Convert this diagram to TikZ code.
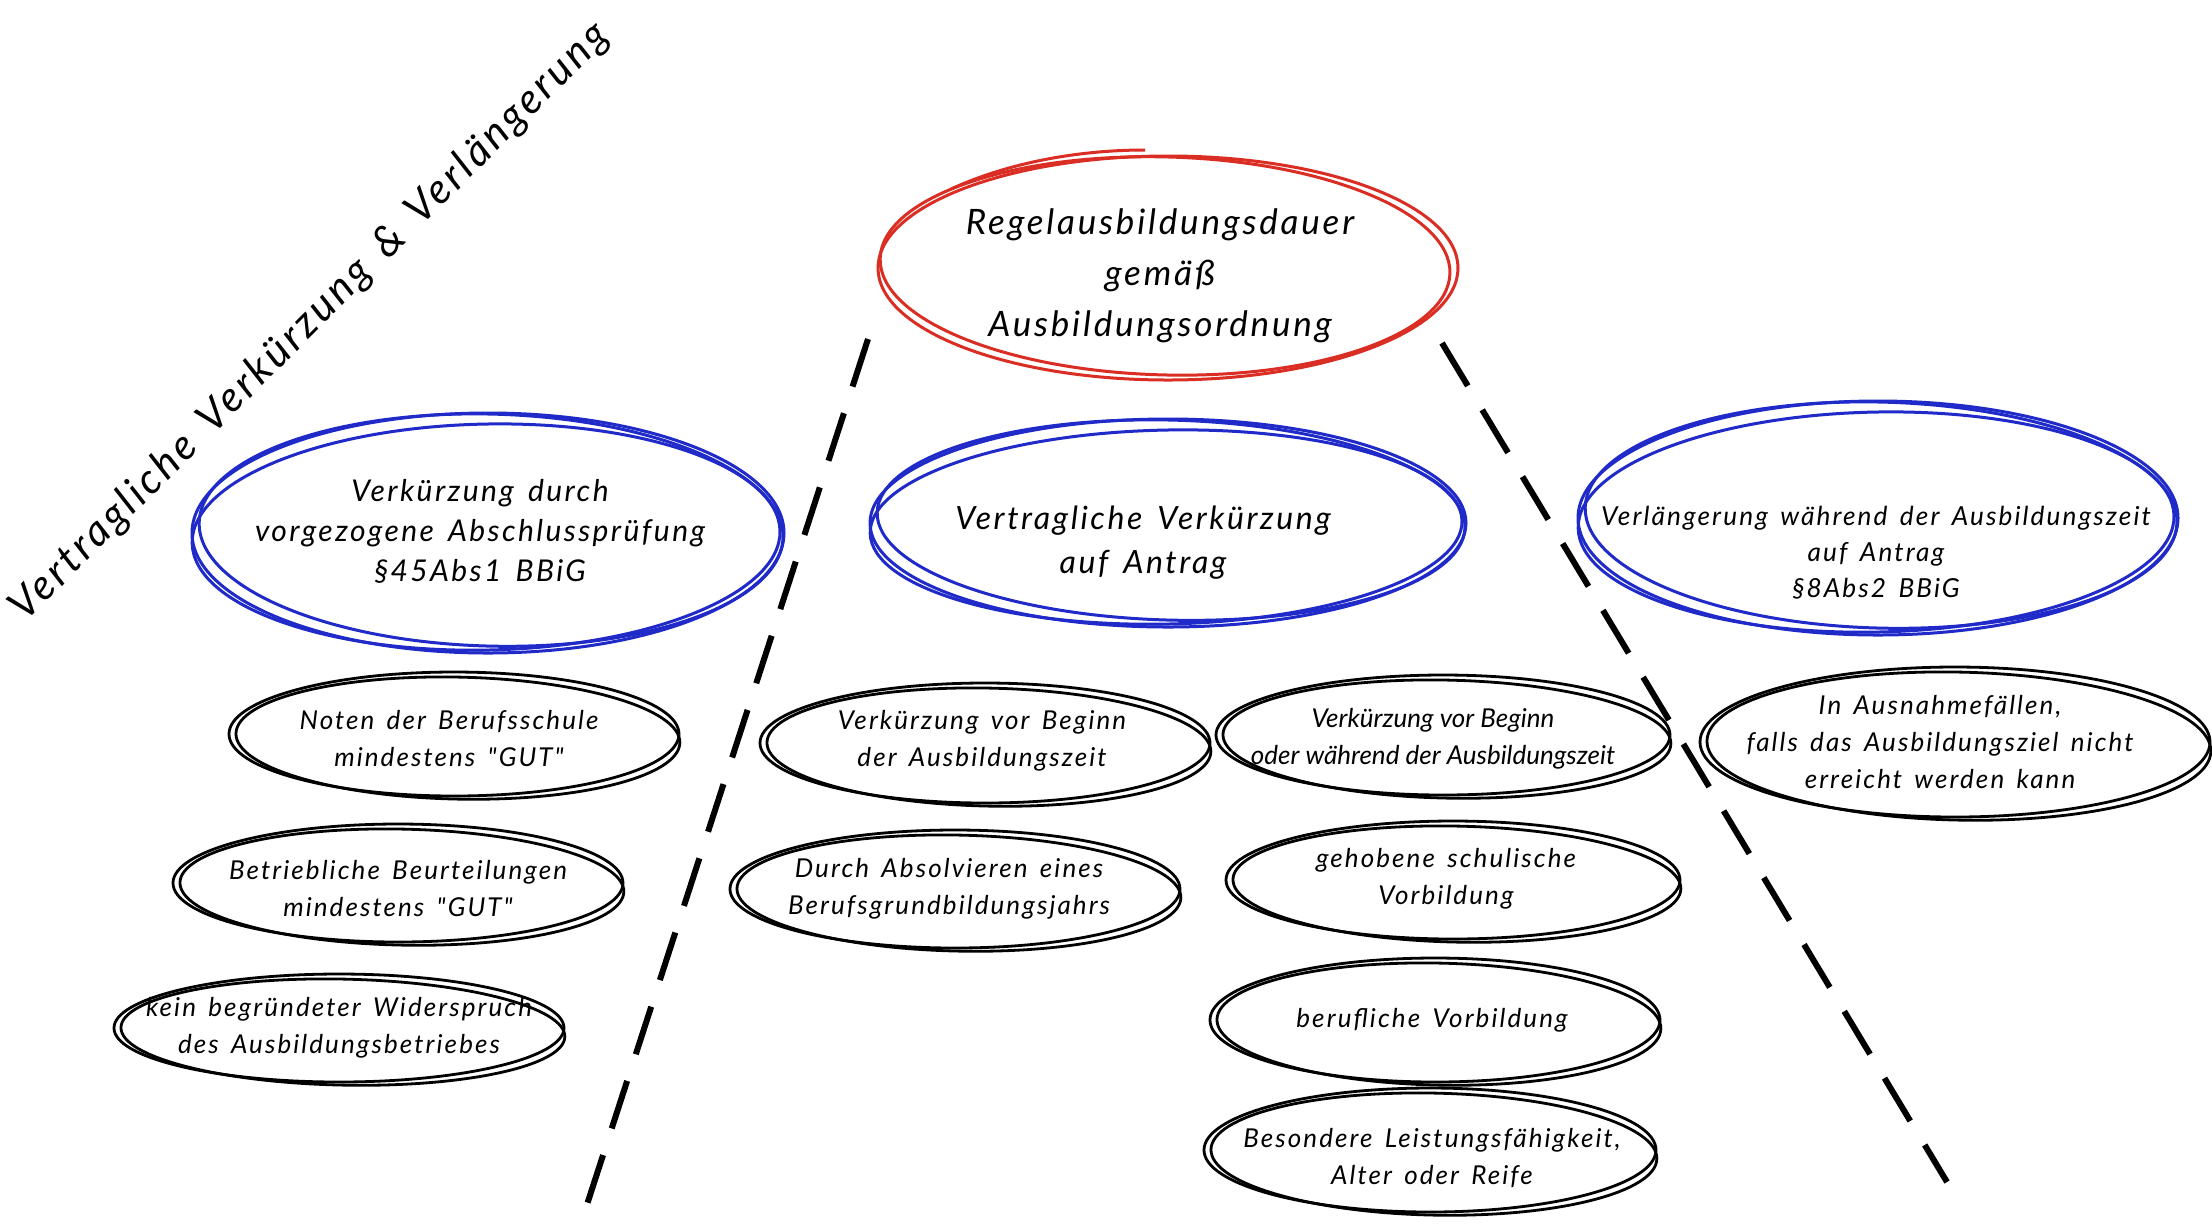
\documentclass[tikz,border=0pt]{standalone}
\usepackage{fontspec}
\setmainfont{Lato}
\newfontfamily\handfont{Lato}[LetterSpace=8, WordSpace=1.5]
\usetikzlibrary{calc}
\definecolor{skred}{RGB}{218,45,35}
\definecolor{skblue}{RGB}{32,42,200}
\tikzset{
  lbl/.style={align=center, inner sep=0pt},
  smalltxt/.style={lbl, font=\handfont\itshape\fontsize{13}{18.5}\selectfont},
  redtxt/.style={lbl, font=\handfont\itshape\fontsize{17.5}{25.5}\selectfont},
  redline/.style={draw=skred, line width=1.5pt},
  blueline/.style={draw=skblue, line width=1.5pt},
  blackline/.style={draw=black, line width=1.4pt},
  divider/.style={draw=black, line width=3pt, dash pattern=on 25pt off 14pt},
}
\newcommand\blackov[3]{%
  \draw[blackline] #1 ellipse [x radius=#2, y radius=#3];
  \draw[blackline, rotate around={-1.2:#1}] ($#1+(4,4)$) ellipse [x radius=#2-3, y radius=#3-1];
}
\newcommand\blueov[3]{%
  \draw[blueline] #1 ellipse [x radius=#2, y radius=#3];
  \draw[blueline, rotate around={-1.5:#1}] ($#1+(3,-3)$) ellipse [x radius=#2-4, y radius=#3-4];
  \draw[blueline, rotate around={1.2:#1}] ($#1+(-2,4)$) ellipse [x radius=#2-2, y radius=#3-7];
}
\newcommand\redov[3]{%
  \draw[redline] #1 ellipse [x radius=#2, y radius=#3];
  \draw[redline, rotate around={-1.5:#1}] ($#1+(-3,-2)$) ellipse [x radius=#2-5, y radius=#3-3];
}
\begin{document}
\begin{tikzpicture}[x=0.5pt,y=-0.5pt]
\path[use as bounding box, fill=white] (0,0) rectangle (2212,1223);

% dashed dividers
\coordinate (dl1) at (868,339);
\coordinate (dl2) at (581,1223);
\coordinate (dr1) at (1442,343);
\coordinate (dr2) at (1947,1182);
\draw[divider] (dl1) -- (dl2);
\draw[divider] (dr1) -- (dr2);

% title
\node[lbl, rotate=45, font=\handfont\itshape\fontsize{21}{25}\selectfont] (title) at (310,322)
  {Vertragliche Verkürzung \& Verlängerung};

% red top
\redov{(1168,268)}{290}{112}
\draw[redline] (951,189) .. controls (1010,162) and (1080,150) .. (1145,150);
\node[redtxt] (regel) at (1160,276) {Regelausbildungsdauer\\gemäß\\Ausbildungsordnung};

% blue level
\blueov{(488,533)}{296}{120}
\node[lbl, font=\handfont\itshape\fontsize{15}{20}\selectfont] (vorgez) at (480,531)
  {Verkürzung durch\\vorgezogene Abschlussprüfung\\§45Abs1 BBiG};

\blueov{(1168,523)}{298}{104}
\node[lbl, font=\handfont\itshape\fontsize{16}{22}\selectfont] (vertr) at (1143,543)
  {Vertragliche Verkürzung\\auf Antrag};

\blueov{(1878,518)}{300}{117}
\node[lbl, font=\handfont\itshape\fontsize{13.1}{18}\selectfont] (verl) at (1876,553)
  {Verlängerung während der Ausbildungszeit\\auf Antrag\\§8Abs2 BBiG};

% left column
\blackov{(454,734)}{225}{62}
\node[smalltxt] (noten) at (449,739) {Noten der Berufsschule\\mindestens "GUT"};
\blackov{(398,883)}{225}{59}
\node[smalltxt] (betr) at (398,889) {Betriebliche Beurteilungen\\mindestens "GUT"};
\blackov{(339,1028)}{225}{54}
\node[smalltxt] (kein) at (339,1028) {kein begründeter Widerspruch\\des Ausbildungsbetriebes};

% middle columns
\blackov{(985,743)}{225}{60}
\node[smalltxt] (vorbeg) at (982,741) {Verkürzung vor Beginn\\der Ausbildungszeit};
\blackov{(955,889)}{225}{59}
\node[smalltxt] (durch) at (949,889) {Durch Absolvieren eines\\Berufsgrundbildungsjahrs};

\blackov{(1443,735)}{227}{60}
\node[lbl, font=\itshape\fontsize{13}{18.5}\selectfont] (vorwae) at (1433,739) {Verkürzung vor Beginn\\oder während der Ausbildungszeit};
\blackov{(1453,880)}{227}{59}
\node[smalltxt] (gehob) at (1446,879) {gehobene schulische\\Vorbildung};
\blackov{(1435,1020)}{225}{62}
\node[smalltxt] (beruf) at (1432,1020) {berufliche Vorbildung};
\blackov{(1430,1150)}{226}{62}
\node[smalltxt] (beson) at (1432,1158) {Besondere Leistungsfähigkeit,\\Alter oder Reife};

% right column
\blackov{(1955,742)}{255}{75}
\node[smalltxt] (ausn) at (1940,742) {In Ausnahmefällen,\\falls das Ausbildungsziel nicht\\erreicht werden kann};
\end{tikzpicture}
\end{document}
